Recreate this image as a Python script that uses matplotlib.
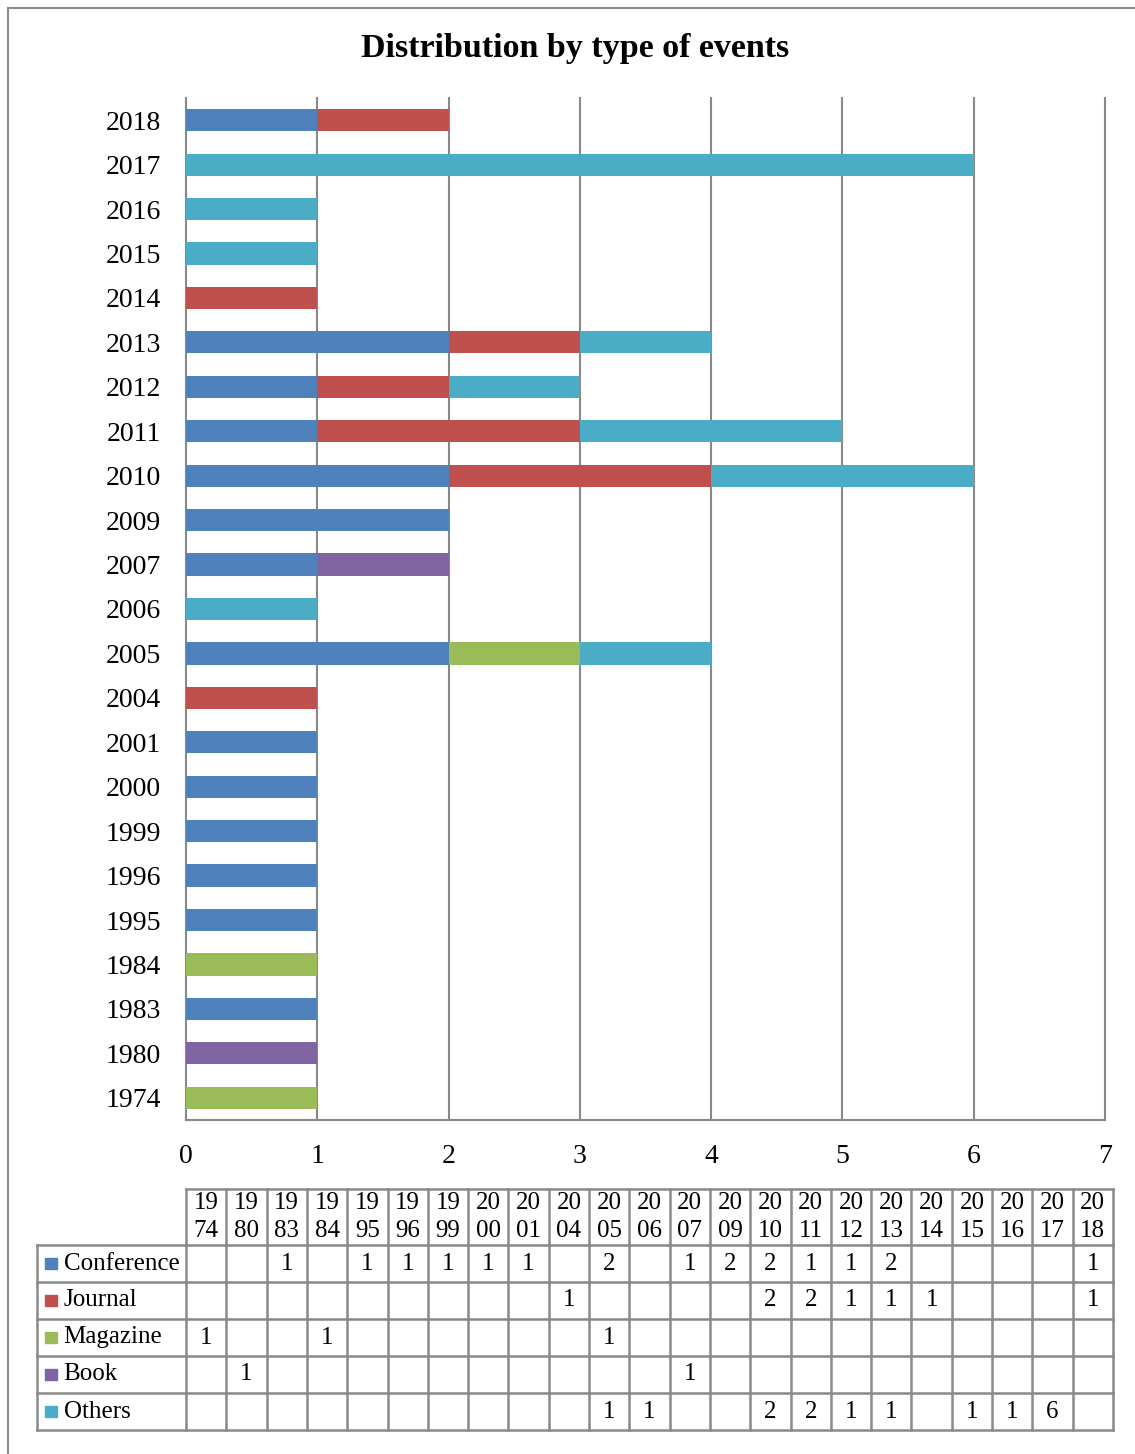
import matplotlib
matplotlib.use("Agg")
from matplotlib import pyplot as plt
from matplotlib.lines import Line2D
from matplotlib.patches import Rectangle
import numpy as np

years = ["1974", "1980", "1983", "1984", "1995", "1996", "1999", "2000", "2001",
         "2004", "2005", "2006", "2007", "2009", "2010", "2011", "2012", "2013",
         "2014", "2015", "2016", "2017", "2018"]
conference = [0, 0, 1, 0, 1, 1, 1, 1, 1, 0, 2, 0, 1, 2, 2, 1, 1, 2, 0, 0, 0, 0, 1]
journal    = [0, 0, 0, 0, 0, 0, 0, 0, 0, 1, 0, 0, 0, 0, 2, 2, 1, 1, 1, 0, 0, 0, 1]
magazine   = [1, 0, 0, 1, 0, 0, 0, 0, 0, 0, 1, 0, 0, 0, 0, 0, 0, 0, 0, 0, 0, 0, 0]
book       = [0, 1, 0, 0, 0, 0, 0, 0, 0, 0, 0, 0, 1, 0, 0, 0, 0, 0, 0, 0, 0, 0, 0]
others     = [0, 0, 0, 0, 0, 0, 0, 0, 0, 0, 1, 1, 0, 0, 2, 2, 1, 1, 0, 1, 1, 6, 0]

series_names = ["Conference", "Journal", "Magazine", "Book", "Others"]
series_vals = [conference, journal, magazine, book, others]
colors = ["#4F81BD", "#C0504D", "#9BBB59", "#8064A2", "#4BACC6"]
grid_col = "#898989"

plt.rcParams['font.family'] = ['Liberation Serif', 'DejaVu Serif']

W, H = 1135, 1454
fig = plt.figure(figsize=(W / 100, H / 100), dpi=100)

# outer chart border (left and top visible)
fig.add_artist(Line2D([8 / W, 8 / W], [0, 1 - 8 / H], color="#8c8c8c", lw=1.5))
fig.add_artist(Line2D([8 / W, 1], [1 - 8 / H, 1 - 8 / H], color="#8c8c8c", lw=1.5))

fig.text(575 / W, 1 - 49 / H, "Distribution by type of events", ha="center",
         va="center", fontsize=24.5, fontweight="bold")

# main bar chart
ax = fig.add_axes([186 / W, 1 - 1120 / H, 919 / W, 1022 / H])
y = np.arange(len(years))
left = np.zeros(len(years))
for name, vals, c in zip(series_names, series_vals, colors):
    vals = np.array(vals, dtype=float)
    ax.barh(y, vals, left=left, height=0.5, color=c, label=name, zorder=3)
    left += vals

ax.set_xlim(0, 7)
ax.set_ylim(-0.5, len(years) - 0.5)
ax.set_yticks(y)
ax.set_yticklabels(years)
ax.set_xticks(range(0, 8))
ax.tick_params(axis="both", length=0, labelsize=20)
ax.tick_params(axis="y", pad=18)
ax.tick_params(axis="x", pad=17)
ax.grid(axis="x", color=grid_col, lw=1.5, zorder=1)
for gl in ax.get_xgridlines():
    gl.set_clip_on(False)
for s in ["top", "right", "left"]:
    ax.spines[s].set_visible(False)
ax.spines["bottom"].set_color(grid_col)
ax.spines["bottom"].set_linewidth(1.5)

# data table below
tx0, tx1 = 37, 1113
ty0, ty1 = 1189, 1430
tab = fig.add_axes([tx0 / W, 1 - ty1 / H, (tx1 - tx0) / W, (ty1 - ty0) / H])
ncol = len(years)
colw = (tx1 - 186) / ncol
lab_w = (186 - tx0) / colw
row_h = (ty1 - 1245) / len(series_names)
head_h = (1245 - ty0) / row_h
tab.set_xlim(-lab_w, ncol)
tab.set_ylim(len(series_names), -head_h)
tab.axis("off")

lw = 1.8
# horizontal lines
tab.plot([0, ncol], [-head_h, -head_h], color=grid_col, lw=lw, clip_on=False)
for r in range(len(series_names) + 1):
    tab.plot([-lab_w, ncol], [r, r], color=grid_col, lw=lw, clip_on=False)
# vertical lines
for c in range(ncol + 1):
    tab.plot([c, c], [-head_h, len(series_names)], color=grid_col, lw=lw, clip_on=False)
tab.plot([-lab_w, -lab_w], [0, len(series_names)], color=grid_col, lw=lw, clip_on=False)

for c, yr in enumerate(years):
    tab.text(c + 0.5, -head_h / 2, yr[:2] + "\n" + yr[2:], ha="center", va="center",
             fontsize=18, linespacing=1.3)

for r, (name, vals, col) in enumerate(zip(series_names, series_vals, colors)):
    tab.add_patch(Rectangle((-lab_w + 0.2, r + 0.34), 0.3, 0.32, color=col,
                            clip_on=False))
    tab.text(-lab_w + 0.66, r + 0.5, name, ha="left", va="center", fontsize=18)
    for c, v in enumerate(vals):
        if v:
            tab.text(c + 0.5, r + 0.5, str(v), ha="center", va="center", fontsize=18)

fig.savefig("out.png", dpi=100)
